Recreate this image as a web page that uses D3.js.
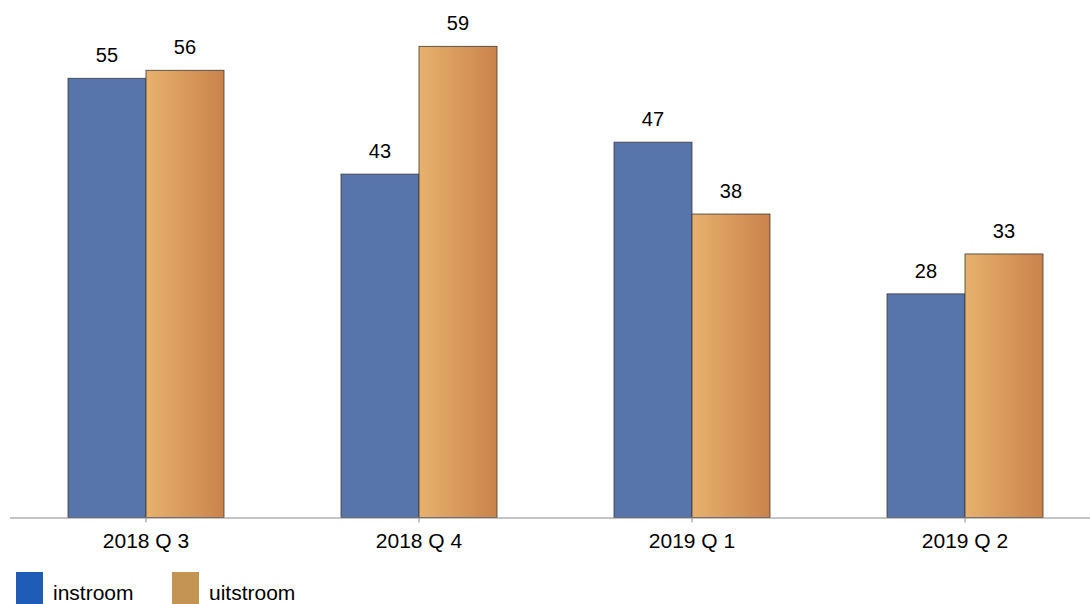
<!DOCTYPE html>
<html>
<head>
<meta charset="utf-8">
<script src="https://cdn.jsdelivr.net/npm/d3@7"></script>
<style>
  body { margin: 0; background: #fff; }
  text { font-family: "Liberation Sans", Arial, sans-serif; fill: #000; }
</style>
</head>
<body>
<div id="chart"></div>
<script>
// data
var categories = ["2018 Q 3", "2018 Q 4", "2019 Q 1", "2019 Q 2"];
var seriesNames = ["instroom", "uitstroom"];
var instroom = [55, 43, 47, 28];
var uitstroom = [56, 59, 38, 33];
var legendColors = ["#1f5cb8", "#c39454"];

var width = 1090, height = 604;
var baseY = 517.5;

var svg = d3.select("#chart")
    .append("svg")
    .attr("width", width)
    .attr("height", height);

// gradient for uitstroom bars
var defs = svg.append("defs");
var grad = defs.append("linearGradient")
    .attr("id", "uitGrad")
    .attr("x1", "0%").attr("x2", "100%")
    .attr("y1", "0%").attr("y2", "0%");
grad.append("stop").attr("offset", "0%").attr("stop-color", "#e7b16d");
grad.append("stop").attr("offset", "100%").attr("stop-color", "#ca834b");

// scales
var x0 = d3.scaleBand()
    .domain(categories)
    .range([9.5, 1101.5])
    .paddingInner(0.4286)
    .paddingOuter(0.2143);

var x1 = d3.scaleBand()
    .domain(seriesNames)
    .range([0, x0.bandwidth()]);

var y = d3.scaleLinear()
    .domain([0, 64.8])
    .range([baseY, 0]);

var rows = categories.map(function (c, i) {
    return { cat: c, values: [
        { key: "instroom", value: instroom[i] },
        { key: "uitstroom", value: uitstroom[i] }
    ] };
});

// bars
var groups = svg.append("g")
    .selectAll("g")
    .data(rows)
    .enter()
    .append("g")
    .attr("transform", function (d) { return "translate(" + x0(d.cat) + ",0)"; });

groups.selectAll("rect")
    .data(function (d) { return d.values; })
    .enter()
    .append("rect")
    .attr("x", function (d) { return x1(d.key); })
    .attr("y", function (d) { return y(d.value); })
    .attr("width", x1.bandwidth())
    .attr("height", function (d) { return baseY - y(d.value); })
    .style("fill", function (d) { return d.key === "instroom" ? "#5775ab" : "url(#uitGrad)"; })
    .style("stroke", "#3a3a3a")
    .style("stroke-width", 0.8);

groups.selectAll("text")
    .data(function (d) { return d.values; })
    .enter()
    .append("text")
    .attr("x", function (d) { return x1(d.key) + x1.bandwidth() / 2; })
    .attr("y", function (d) { return y(d.value) - 16; })
    .attr("text-anchor", "middle")
    .style("font-size", "20px")
    .text(function (d) { return d.value; });

// x axis
var axis = svg.append("g")
    .attr("transform", "translate(0," + baseY + ")")
    .call(d3.axisBottom(x0).tickSizeInner(5).tickSizeOuter(0).tickPadding(11));
axis.select(".domain").attr("stroke", "#8a8a8a");
axis.selectAll(".tick line").attr("stroke", "#8a8a8a");
axis.selectAll(".tick text")
    .style("font-size", "21px")
    .style("font-family", "'Liberation Sans', Arial, sans-serif")
    .attr("fill", "#000");

// legend
var legendX = [16, 172];
var legend = svg.append("g");
seriesNames.forEach(function (name, i) {
    legend.append("rect")
        .attr("x", legendX[i])
        .attr("y", 572)
        .attr("width", 27)
        .attr("height", 34)
        .style("fill", legendColors[i]);
    legend.append("text")
        .attr("x", legendX[i] + 37)
        .attr("y", 600)
        .style("font-size", "21px")
        .text(name);
});
</script>
</body>
</html>
